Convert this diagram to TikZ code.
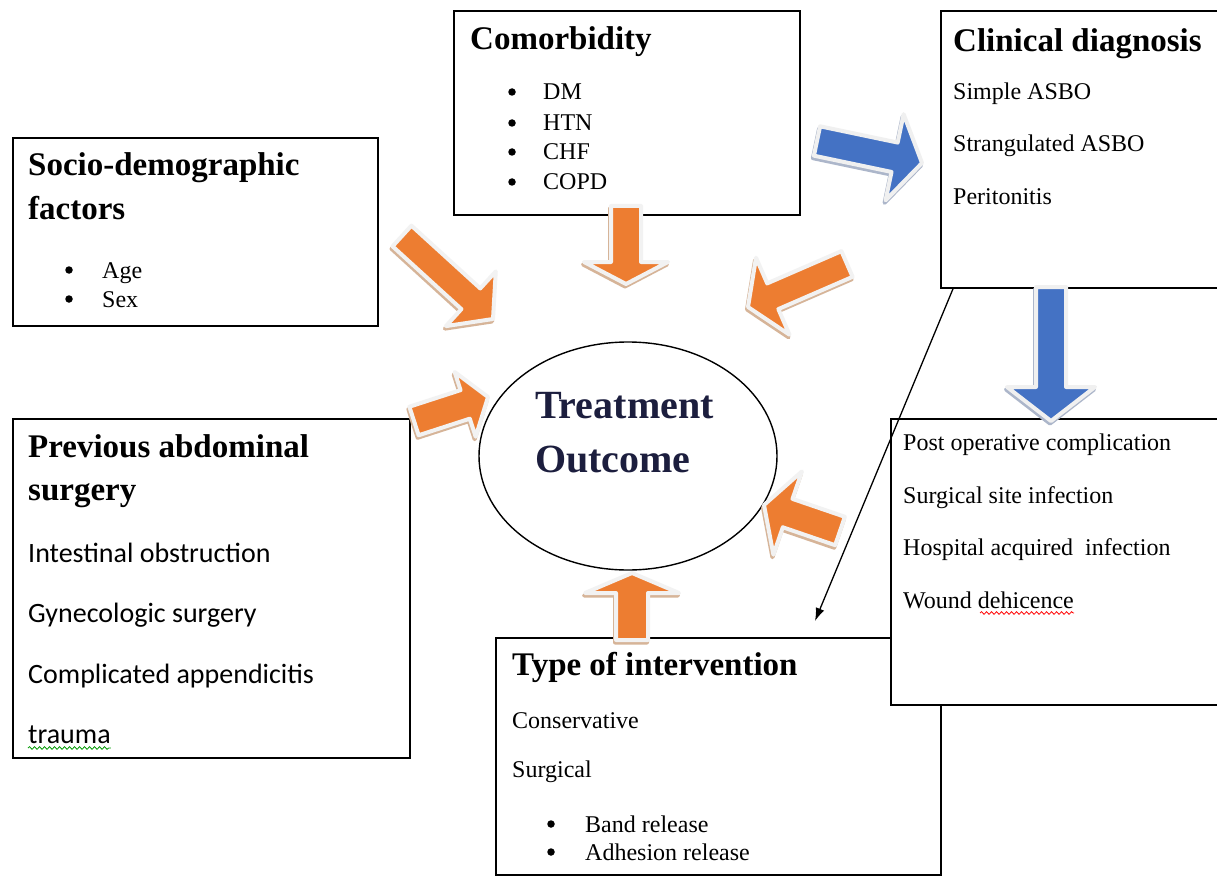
\documentclass[tikz,border=0pt]{standalone}
\usepackage{fontspec}
\setmainfont{Liberation Serif}
\newfontfamily\calfont{Carlito}
\usepackage{tikz}
\usetikzlibrary{calc,shapes.geometric,arrows.meta,decorations.pathmorphing}

\definecolor{arroworange}{RGB}{237,125,49}
\definecolor{arrowblue}{RGB}{68,114,196}
\definecolor{orangeshade}{RGB}{214,180,152}
\definecolor{blueshade}{RGB}{172,182,202}
\definecolor{outcomeblue}{RGB}{28,30,62}

% tail, tip, half shaft, half head, head length, style
\newcommand{\blockarrow}[6]{%
  \coordinate (ba-m) at ($(#2)!#5!(#1)$);
  \path[#6] ($(#1)!#3!90:(#2)$) -- ($(ba-m)!#3!-90:(#1)$) -- ($(ba-m)!#4!-90:(#1)$) -- (#2)
    -- ($(ba-m)!#4!90:(#1)$) -- ($(ba-m)!#3!90:(#1)$) -- ($(#1)!#3!-90:(#2)$) -- cycle;
}

\begin{document}
\begin{tikzpicture}[x=1pt,y=-1pt,
  factorbox/.style={draw, line width=1.8pt, fill=white, anchor=north west, inner sep=0pt},
  headtext/.style={font=\fontsize{33}{40}\selectfont\bfseries, anchor=base west, inner sep=0pt},
  itemtext/.style={font=\fontsize{24}{29}\selectfont, anchor=base west, inner sep=0pt},
  bulletdot/.style={circle, fill=black, inner sep=0pt, minimum size=7.5pt},
  caltext/.style={font=\calfont\fontsize{28}{34}\selectfont, anchor=base west, inner sep=0pt},
  orangearrow/.style={fill=arroworange, draw=gray!10, line width=4pt, line join=round,
    preaction={fill=orangeshade, draw=orangeshade, line width=4pt, line join=round,
      transform canvas={shift={(-1pt,-2.5pt)}}}},
  bluearrow/.style={fill=arrowblue, draw=gray!12, line width=4pt, line join=round,
    preaction={fill=blueshade, draw=blueshade, line width=4pt, line join=round,
      transform canvas={shift={(-1pt,-2.5pt)}}}},
  squiggle/.style={line width=0.8pt, decorate, decoration={snake, amplitude=1.3pt, segment length=5pt}}
  ]
  \fill[white] (0,0) rectangle (1217,877);
  \useasboundingbox (0,0) rectangle (1217,877);

  % boxes
  \node[factorbox, minimum width=346pt, minimum height=204pt] (como) at (453,10) {};
  \node[factorbox, minimum width=365pt, minimum height=188pt] (socio) at (12,137) {};
  \node[factorbox, minimum width=397pt, minimum height=339pt] (prev) at (12,418) {};
  \node[factorbox, minimum width=300pt, minimum height=277pt] (clin) at (940,10) {};
  \node[factorbox, minimum width=445pt, minimum height=237pt] (interv) at (495,637) {};
  \node[factorbox, minimum width=350pt, minimum height=286pt] (compl) at (890,418) {};
  \node[draw, ellipse, line width=1.4pt, minimum width=298pt, minimum height=228pt] (outcome) at (628,456) {};

  % texts
  \node[headtext] (como-title) at (470,50) {Comorbidity};
  \node[bulletdot] (como-b1) at (512,92) {};
  \node[itemtext] (como-1) at (543,100) {DM};
  \node[bulletdot] (como-b2) at (512,123) {};
  \node[itemtext] (como-2) at (543,131) {HTN};
  \node[bulletdot] (como-b3) at (512,152) {};
  \node[itemtext] (como-3) at (543,160) {CHF};
  \node[bulletdot] (como-b4) at (512,182) {};
  \node[itemtext] (como-4) at (543,190) {COPD};

  \node[headtext] (socio-title) at (28,176) {Socio-demographic};
  \node[headtext] (socio-title2) at (28,220) {factors};
  \node[bulletdot] (socio-b1) at (69,270) {};
  \node[itemtext] (socio-1) at (102,278) {Age};
  \node[bulletdot] (socio-b2) at (69,299) {};
  \node[itemtext] (socio-2) at (102,307) {Sex};

  \node[headtext] (prev-title) at (28,457) {Previous abdominal};
  \node[headtext] (prev-title2) at (28,500) {surgery};
  \node[caltext] (prev-1) at (28,562) {Intestinal obstruction};
  \node[caltext] (prev-2) at (28,622) {Gynecologic surgery};
  \node[caltext] (prev-3) at (28,683) {Complicated appendicitis};
  \node[caltext] (prev-4) at (28,743) {trauma};

  \node[headtext] (clin-title) at (953,52) {Clinical diagnosis};
  \node[itemtext] (clin-1) at (953,100) {Simple ASBO};
  \node[itemtext] (clin-2) at (953,152) {Strangulated ASBO};
  \node[itemtext] (clin-3) at (953,205) {Peritonitis};

  \node[itemtext] (compl-1) at (903,450) {Post operative complication};
  \node[itemtext] (compl-2) at (903,503) {Surgical site infection};
  \node[itemtext] (compl-3) at (903,555) {Hospital acquired\ \ infection};
  \node[itemtext] (compl-4) at (903,608) {Wound dehicence};

  \node[headtext] (interv-title) at (512,675) {Type of intervention};
  \node[itemtext] (interv-1) at (512,728) {Conservative};
  \node[itemtext] (interv-2) at (512,777) {Surgical};
  \node[bulletdot] (interv-b3) at (551,824) {};
  \node[itemtext] (interv-3) at (585,832) {Band release};
  \node[bulletdot] (interv-b4) at (551,852) {};
  \node[itemtext] (interv-4) at (585,860) {Adhesion release};

  \node[font=\fontsize{40}{48}\selectfont\bfseries, text=outcomeblue, anchor=base west, inner sep=0pt] (outcome-1) at (535,418) {Treatment};
  \node[font=\fontsize{40}{48}\selectfont\bfseries, text=outcomeblue, anchor=base west, inner sep=0pt] (outcome-2) at (535,472) {Outcome};

  % spelling marks
  \draw[squiggle, red] ($(compl-4.base west)+(77,5)$) -- ($(compl-4.base east)+(0,5)$);
  \draw[squiggle, green!60!black] ($(prev-4.base west)+(0,5)$) -- ($(prev-4.base east)+(0,5)$);

  % block arrows
  \coordinate (socio-tail) at (402,236);  \coordinate (socio-tip) at (493,319);
  \coordinate (como-tail) at (626,206);   \coordinate (como-tip) at (626,284);
  \coordinate (clin-tail) at (847,264);   \coordinate (clin-tip) at (748,307);
  \coordinate (prev-tail) at (414,421);   \coordinate (prev-tip) at (488,397);
  \coordinate (compl-tail) at (840,531);  \coordinate (compl-tip) at (764,505);
  \coordinate (interv-tail) at (632,640); \coordinate (interv-tip) at (632,573);
  \blockarrow{socio-tail}{socio-tip}{14pt}{37pt}{30pt}{orangearrow}
  \blockarrow{como-tail}{como-tip}{15pt}{42pt}{22pt}{orangearrow}
  \blockarrow{clin-tail}{clin-tip}{14pt}{42pt}{27pt}{orangearrow}
  \blockarrow{prev-tail}{prev-tip}{15pt}{34pt}{24pt}{orangearrow}
  \blockarrow{compl-tail}{compl-tip}{15pt}{44pt}{25pt}{orangearrow}
  \blockarrow{interv-tail}{interv-tip}{16pt}{47pt}{20pt}{orangearrow}

  \coordinate (diag-tail) at (817,141);   \coordinate (diag-tip) at (922,163);
  \coordinate (down-tail) at (1051,287);  \coordinate (down-tip) at (1051,421);
  \blockarrow{diag-tail}{diag-tip}{15pt}{44pt}{28pt}{bluearrow}
  \blockarrow{down-tail}{down-tip}{15pt}{44pt}{34pt}{bluearrow}

  % link to intervention
  \coordinate (link-end) at (815,621);
  \draw[line width=1.3pt, -{Latex[length=13pt,width=9pt]}] ($(clin.south west)+(13,0)$) -- (link-end);
\end{tikzpicture}
\end{document}
